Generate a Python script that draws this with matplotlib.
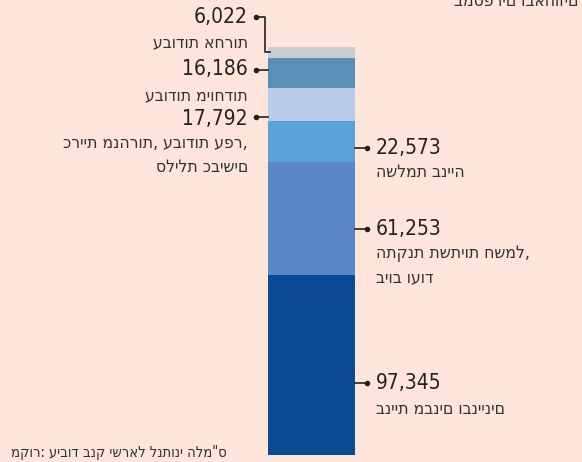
import numpy as np
import matplotlib
matplotlib.use("Agg")
import matplotlib.pyplot as plt

# --- DATA ---
categories = ["בניית מבנים ובניינים", "התקנת תשתיות חשמל,\nביוב ועוד", "השלמת בנייה",
              "כריית מנהרות, עבודות עפר,\nסלילת כבישים", "עבודות מיוחדות", "עבודות אחרות"]
values = [97345, 61253, 22573, 17792, 16186, 6022]
colors = ["#0b4a94", "#5b87c6", "#5aa2d8", "#b9cdeb", "#5a8fb8", "#c9cdd1"]

BG = "#fde5dc"
W, H = 582, 462
FONT = dict(family=["DejaVu Sans"], fontstretch="condensed")

fig = plt.figure(figsize=(W / 100, H / 100), dpi=100, facecolor=BG)

# bar axes (value units)
ax = fig.add_axes([268 / W, (H - 455) / H, 87 / W, 408 / H])
ax.set_facecolor("none")
bottom = 0
for v, c in zip(values, colors):
    ax.bar(0, v, bottom=bottom, width=1, color=c, edgecolor="none")
    bottom += v
ax.set_xlim(-0.5, 0.5)
ax.set_ylim(0, sum(values))
ax.axis("off")

# overlay axes in pixel units for labels
ov = fig.add_axes([0, 0, 1, 1])
ov.set_xlim(0, W)
ov.set_ylim(H, 0)
ov.axis("off")
ov.set_facecolor("none")

num_kw = dict(fontsize=15, color="#222222", va="center", **FONT)
lab_kw = dict(fontsize=12.5, color="#333333", va="center", linespacing=1.45, **FONT)

# left side (right-aligned)
left = [(5, 17, 42), (4, 69, 95), (3, 119, 155)]
for i, ny, ly in left:
    ov.text(248, ny, f"{values[i]:,}", ha="right", **num_kw)
    ov.text(248, ly, categories[i], ha="right", multialignment="right", **lab_kw)

# connectors on the left
ov.plot([256, 265, 265, 270], [17, 17, 52, 52], color="#222222", lw=1.2)
ov.plot([256], [17], "o", color="#222222", ms=3)
for y in (70, 117):
    ov.plot([256, 268], [y, y], color="#222222", lw=1.2)
    ov.plot([256], [y], "o", color="#222222", ms=3)

# right side (left-aligned)
right = [(2, 148, 172), (1, 229, 265), (0, 383, 409)]
for i, ny, ly in right:
    ov.text(376, ny, f"{values[i]:,}", ha="left", **num_kw)
    ov.text(376, ly, categories[i], ha="left", multialignment="left", **lab_kw)
    ov.plot([355, 367], [ny, ny], color="#222222", lw=1.2)
    ov.plot([367], [ny], "o", color="#222222", ms=3)

# cut-off subtitle at the top and the source line
ov.text(578, 1, "במספרים ובאחוזים", ha="right", va="center", fontsize=12.5, color="#333333", **FONT)
ov.text(227, 453, 'מקור: עיבוד בנק ישראל לנתוני הלמ"ס', ha="right", va="center",
        fontsize=10.5, color="#333333", **FONT)

fig.savefig("out.png", dpi=100, facecolor=BG)
